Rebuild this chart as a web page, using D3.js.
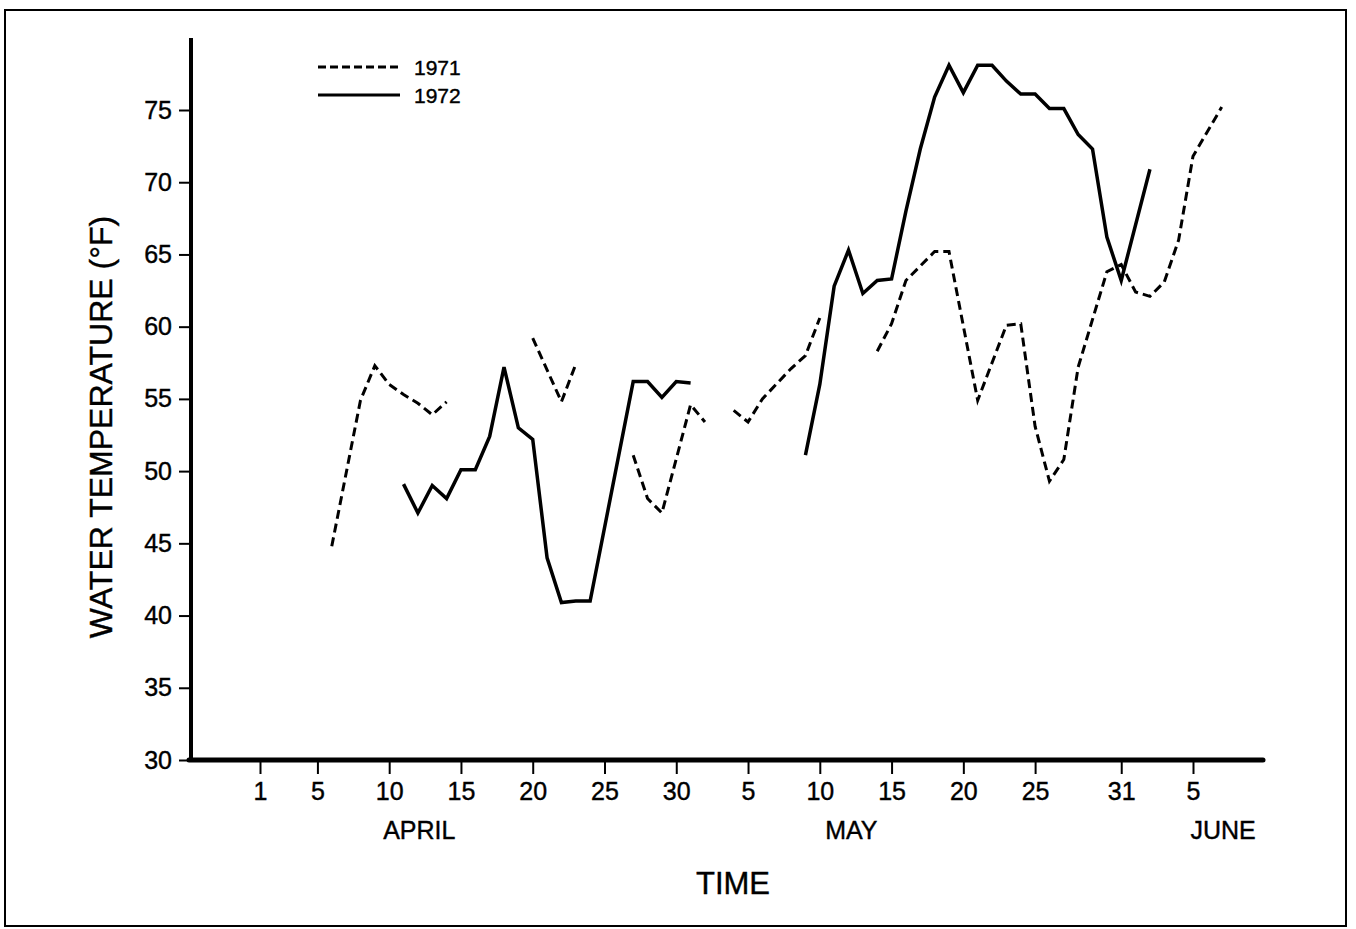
<!DOCTYPE html>
<html>
<head>
<meta charset="utf-8">
<script src="https://cdn.jsdelivr.net/npm/d3@7"></script>
<style>
  body { margin: 0; background: #fff; }
  text { font-family: "Liberation Sans", Arial, sans-serif; fill: #000; stroke: #000; stroke-width: 0.4; }
</style>
</head>
<body>
<script>
// day index: April 1 = 1, May 1 = 31, June 1 = 62
const tickDays = [1, 5, 10, 15, 20, 25, 30, 35, 40, 45, 50, 55, 61, 66];
const tickLabels = ["1", "5", "10", "15", "20", "25", "30", "5", "10", "15", "20", "25", "31", "5"];
const yTicks = [30, 35, 40, 45, 50, 55, 60, 65, 70, 75];
const months = [{name: "APRIL", day: 12.1}, {name: "MAY", day: 42.2}, {name: "JUNE", day: 68.1}];

// null = break in the record
const days1971 = [6, 8, 9, 10, 11, 12, 13, 14, 17,
    20, 22, 23, 25,
    27, 28, 29, 31, 32, 33,
    34, 35, 36, 38, 39, 40, 42,
    44, 45, 46, 48, 49, 51, 53, 54, 55, 56, 57, 58, 60, 61, 62, 63, 64, 65, 66, 68];
const temps1971 = [44.8, 54.9, 57.3, 56.0, 55.3, 54.7, 53.9, 54.8, null,
    59.2, 54.8, 57.4, null,
    51.1, 48.1, 47.1, 54.6, 53.4, null,
    54.2, 53.4, 55.0, 57.1, 58.0, 60.6, null,
    58.3, 60.2, 63.2, 65.2, 65.2, 54.9, 60.1, 60.2, 53.1, 49.3, 50.8, 57.2, 63.8, 64.3, 62.4, 62.1, 63.1, 66.0, 71.8, 75.2];

const days1972 = [11, 12, 13, 14, 15, 16, 17, 18, 19, 20, 21, 22, 23, 24, 27, 28, 29, 30, 31, 35,
    39, 40, 41, 42, 43, 44, 45, 46, 47, 48, 49, 50, 51, 52, 53, 54, 55, 56, 57, 58, 59, 60, 61, 63];
const temps1972 = [49.1, 47.1, 49.0, 48.1, 50.1, 50.1, 52.4, 57.2, 53.0, 52.2, 44.0, 40.9, 41.0, 41.0, 56.2, 56.2, 55.1, 56.2, 56.1, null,
    51.1, 56.0, 62.8, 65.3, 62.3, 63.2, 63.3, 68.0, 72.3, 75.9, 78.1, 76.2, 78.1, 78.1, 77.0, 76.1, 76.1, 75.1, 75.1, 73.3, 72.3, 66.2, 63.2, 70.9];

const W = 1356, H = 929;
const axisX = 191, axisTop = 38, axisY = 760, axisRight = 1263;

const svg = d3.select("body").append("svg")
    .attr("width", W)
    .attr("height", H);

// frame
svg.append("rect")
    .attr("x", 5).attr("y", 10)
    .attr("width", 1341).attr("height", 916)
    .attr("fill", "none").attr("stroke", "#000").attr("stroke-width", 2);

const x = d3.scaleLinear().domain([1, 66]).range([260, 1193]);
const y = d3.scaleLinear().domain([30, 75]).range([axisY, 110]);

// y axis
const yAxis = svg.append("g")
    .attr("transform", `translate(${axisX},0)`)
    .call(d3.axisLeft(y).tickValues(yTicks).tickSize(12).tickPadding(7));
yAxis.select(".domain").remove();
yAxis.selectAll(".tick line").attr("stroke", "#000").attr("stroke-width", 2);
yAxis.selectAll(".tick text").attr("font-size", 25);

// x axis
const xAxis = svg.append("g")
    .attr("transform", `translate(0,${axisY + 2})`)
    .call(d3.axisBottom(x).tickValues(tickDays).tickFormat((d, i) => tickLabels[i]).tickSize(12).tickPadding(8));
xAxis.select(".domain").remove();
xAxis.selectAll(".tick line").attr("stroke", "#000").attr("stroke-width", 2);
xAxis.selectAll(".tick text").attr("font-size", 25);

svg.append("line")
    .attr("x1", axisX).attr("x2", axisX)
    .attr("y1", axisTop).attr("y2", axisY + 2)
    .attr("stroke", "#000").attr("stroke-width", 4);
svg.append("line")
    .attr("x1", axisX - 2).attr("x2", axisRight)
    .attr("y1", axisY).attr("y2", axisY)
    .attr("stroke", "#000").attr("stroke-width", 5)
    .attr("stroke-linecap", "round");

// month labels
svg.selectAll(".month").data(months).join("text")
    .attr("class", "month")
    .attr("x", d => x(d.day))
    .attr("y", 839)
    .attr("text-anchor", "middle")
    .attr("font-size", 25)
    .text(d => d.name);

svg.append("text")
    .attr("x", 733).attr("y", 894)
    .attr("text-anchor", "middle")
    .attr("font-size", 31)
    .text("TIME");

svg.append("text")
    .attr("transform", "translate(112,427) rotate(-90)")
    .attr("text-anchor", "middle")
    .attr("font-size", 32)
    .text("WATER TEMPERATURE (°F)");

// series
const line = d3.line()
    .defined(d => d.v != null)
    .x(d => x(d.d))
    .y(d => y(d.v));

const s1971 = days1971.map((d, i) => ({d: d, v: temps1971[i]}));
const s1972 = days1972.map((d, i) => ({d: d, v: temps1972[i]}));

svg.append("path")
    .datum(s1971)
    .attr("d", line)
    .attr("fill", "none")
    .attr("stroke", "#000")
    .attr("stroke-width", 3)
    .attr("stroke-dasharray", "9,5");

svg.append("path")
    .datum(s1972)
    .attr("d", line)
    .attr("fill", "none")
    .attr("stroke", "#000")
    .attr("stroke-width", 3.5)
    .attr("stroke-linejoin", "miter");

// legend
const legend = svg.append("g");
legend.append("line")
    .attr("x1", 318).attr("x2", 400).attr("y1", 67).attr("y2", 67)
    .attr("stroke", "#000").attr("stroke-width", 3).attr("stroke-dasharray", "8,4");
legend.append("text")
    .attr("x", 414).attr("y", 75).attr("font-size", 21).text("1971");
legend.append("line")
    .attr("x1", 318).attr("x2", 400).attr("y1", 95).attr("y2", 95)
    .attr("stroke", "#000").attr("stroke-width", 3);
legend.append("text")
    .attr("x", 414).attr("y", 103).attr("font-size", 21).text("1972");
</script>
</body>
</html>
